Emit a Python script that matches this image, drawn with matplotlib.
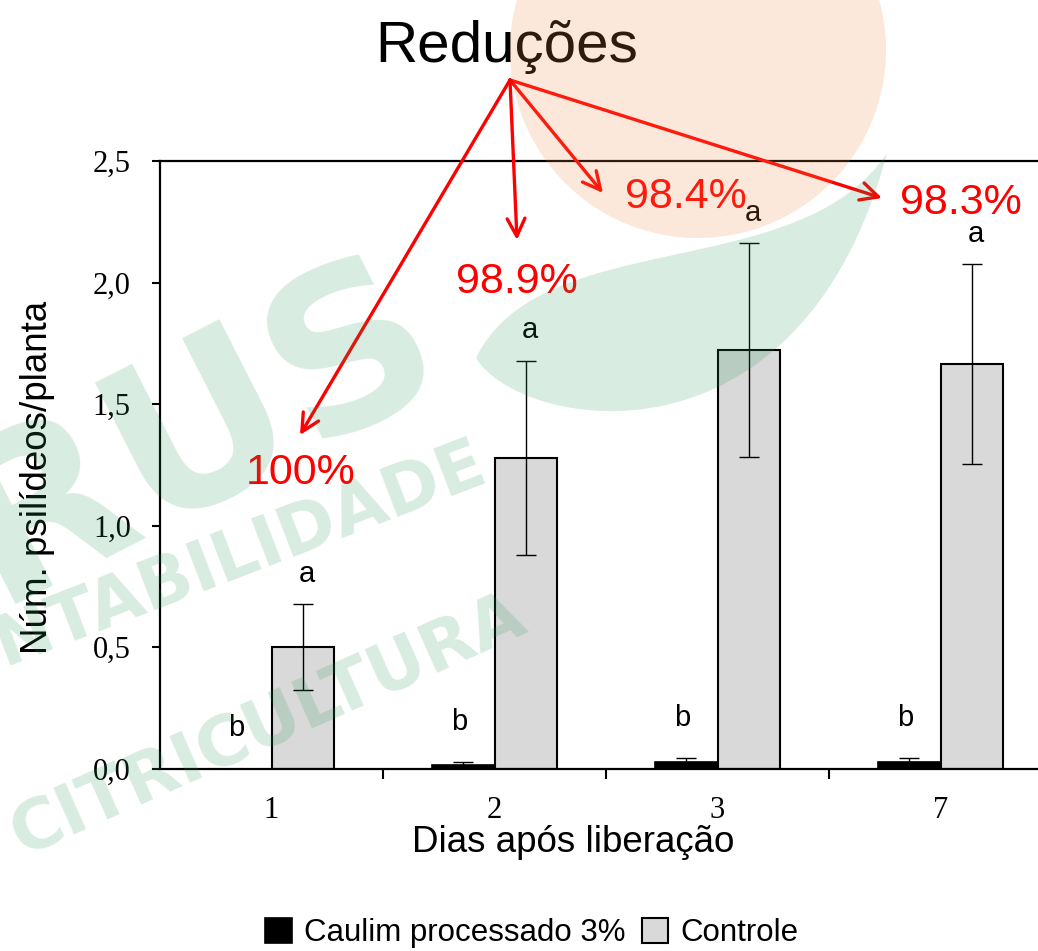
import matplotlib
matplotlib.use("Agg")
import matplotlib.pyplot as plt
import numpy as np
from matplotlib.patches import Circle, PathPatch
from matplotlib.path import Path

# ---------------- data ----------------
days = ["1", "2", "3", "7"]
caulim = [0.0, 0.014, 0.028, 0.028]
caulim_err = [0.0, 0.013, 0.016, 0.016]
controle = [0.50, 1.278, 1.722, 1.665]
controle_err = [0.177, 0.40, 0.44, 0.41]
letters_caulim = ["b", "b", "b", "b"]
letters_controle = ["a", "a", "a", "a"]
reductions = ["100%", "98.9%", "98.4%", "98.3%"]
yticks = [0.0, 0.5, 1.0, 1.5, 2.0, 2.5]
ytick_labels = ["0,0", "0,5", "1,0", "1,5", "2,0", "2,5"]

W, H = 1038, 951
fig = plt.figure(figsize=(W / 100, H / 100), dpi=100)
ax = fig.add_axes([160 / W, (H - 768.5) / H, 892 / W, (768.5 - 161) / H])

x = np.arange(len(days))
bw = 0.28
ax.bar(x - bw / 2, caulim, bw, color="black", edgecolor="black", lw=1.2,
       yerr=caulim_err, error_kw=dict(ecolor="black", elinewidth=1.0, capsize=7, capthick=1.0),
       label="Caulim processado 3%", zorder=2)
ax.bar(x + bw / 2, controle, bw, color="#d9d9d9", edgecolor="black", lw=1.5,
       yerr=controle_err, error_kw=dict(ecolor="black", elinewidth=1.0, capsize=7, capthick=1.0),
       label="Controle", zorder=2)

ax.set_xlim(-0.5, 3.5)
ax.set_ylim(0, 2.5)
ax.set_yticks(yticks)
ax.set_yticklabels(ytick_labels, fontfamily="Liberation Serif", fontsize=22)
ax.set_xticks(x)
ax.set_xticklabels(days, fontfamily="Liberation Serif", fontsize=22)
ax.tick_params(axis="x", which="major", length=0, pad=20)
ax.set_xticks(x[:-1] + 0.5, minor=True)
ax.tick_params(axis="x", which="minor", length=7, width=1.5, direction="out")
ax.tick_params(axis="y", length=6, width=1.5, direction="out", pad=15)
for s in ["left", "bottom", "top"]:
    ax.spines[s].set_linewidth(1.6)
ax.spines["right"].set_visible(False)

ax.set_ylabel("Núm. psilídeos/planta", fontfamily="Liberation Sans", fontsize=26.5, va="center")
ax.yaxis.set_label_coords((38 - 160) / 892, (768.5 - 477) / 607.5)
ax.set_xlabel("Dias após liberação", fontfamily="Liberation Sans", fontsize=26.5, va="center")
ax.xaxis.set_label_coords((573 - 160) / 892, (768.5 - 843) / 607.5)

# significance letters
for i in range(len(days)):
    ax.text(x[i] + bw / 2 + 0.02, controle[i] + controle_err[i] + 0.125, letters_controle[i],
            ha="center", va="center", fontsize=21, fontfamily="Liberation Sans")
    ax.text(x[i] - bw / 2 - 0.02, caulim[i] + caulim_err[i] + 0.165, letters_caulim[i],
            ha="center", va="center", fontsize=21, fontfamily="Liberation Sans")

# legend
leg = fig.legend(loc="center", bbox_to_anchor=(532 / W, 1 - 933 / H), ncol=2, frameon=False,
                 prop=dict(family="Liberation Sans", size=22.5), handlelength=0.85, handleheight=0.85,
                 handletextpad=0.4, columnspacing=0.5)

# title and arrows (figure pixels)
fig.text(507 / W, 1 - 62 / H, "Reduções", ha="center", va="baseline",
         fontfamily="Liberation Sans", fontsize=42)

origin = (510, H - 80)
targets_px = [(300, 435), (517, 240), (603, 193), (882, 198)]
labels_px = [(301, 473), (517, 282), (686, 197), (961, 203)]
for (tx, ty), (lx, ly), r in zip(targets_px, labels_px, reductions):
    ax.annotate("", xy=(tx, H - ty), xycoords="figure pixels", xytext=origin,
                textcoords="figure pixels",
                arrowprops=dict(arrowstyle="->", color="red", lw=2.4, mutation_scale=32,
                                shrinkA=0, shrinkB=0), annotation_clip=False, zorder=5)
    fig.text(lx / W, 1 - ly / H, r, ha="center", va="center", color="red",
             fontfamily="Liberation Sans", fontsize=31)

# watermark overlay
ov = fig.add_axes([0, 0, 1, 1], zorder=10)
ov.set_xlim(0, W)
ov.set_ylim(H, 0)
ov.axis("off")
ov.patch.set_alpha(0)
ov.add_patch(Circle((698, 50), 188, facecolor="#f08c46", alpha=0.2, lw=0))
verts = [(476, 358), (520, 430), (800, 480), (887, 153),
         (800, 285), (540, 225), (476, 358)]
codes = [Path.MOVETO, Path.CURVE4, Path.CURVE4, Path.CURVE4, Path.CURVE4, Path.CURVE4, Path.CURVE4]
ov.add_patch(PathPatch(Path(verts, codes), facecolor="#28965a", alpha=0.18, lw=0))
gcol = (0.157, 0.588, 0.353, 0.18)
ov.text(455, 380, "TRUS", ha="right", va="baseline", rotation=27, rotation_mode="anchor",
        fontsize=160, fontweight="bold", color=gcol, fontfamily="DejaVu Sans")
ov.text(490, 480, "SUSTENTABILIDADE", ha="right", va="baseline", rotation=21, rotation_mode="anchor",
        fontsize=50, fontweight="bold", color=gcol, fontfamily="DejaVu Sans")
ov.text(530, 630, "CITRICULTURA", ha="right", va="baseline", rotation=24, rotation_mode="anchor",
        fontsize=50, fontweight="bold", color=gcol, fontfamily="DejaVu Sans")

fig.savefig("out.png", dpi=100)
